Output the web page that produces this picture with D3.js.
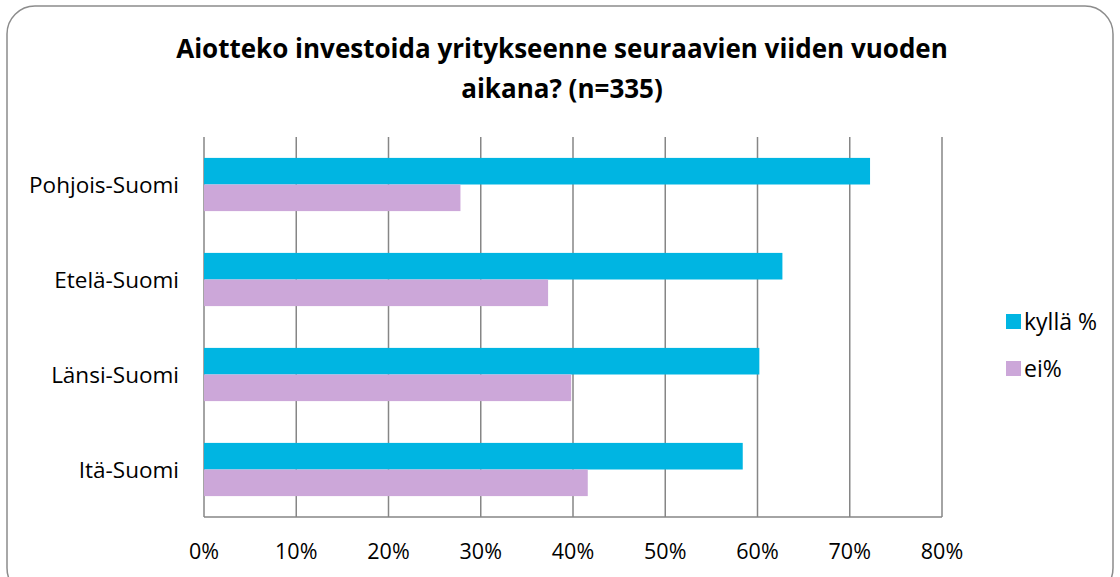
<!DOCTYPE html>
<html>
<head>
<meta charset="utf-8">
<script src="https://cdn.jsdelivr.net/npm/d3@7"></script>
<style>
  body { margin: 0; background: #fff; }
  text { font-family: "Open Sans", "Noto Sans", sans-serif; fill: #000; }
</style>
</head>
<body>
<div id="chart"></div>
<script>
var width = 1120,
    height = 577;

var regions = ['Pohjois-Suomi', 'Etelä-Suomi', 'Länsi-Suomi', 'Itä-Suomi'];
var seriesNames = ['kyllä %', 'ei%'];
var kylla = [72.2, 62.7, 60.2, 58.4];
var ei = [27.8, 37.3, 39.8, 41.6];
var ticks = [0, 10, 20, 30, 40, 50, 60, 70, 80];
var colors = ['#00b5e2', '#cca7d9'];

var svg = d3.select('#chart').append('svg')
    .attr('width', width)
    .attr('height', height);

// outer frame
svg.append('rect')
    .attr('x', 7).attr('y', 6)
    .attr('width', 1106).attr('height', 590)
    .attr('rx', 28).attr('ry', 28)
    .attr('fill', '#fff')
    .attr('stroke', '#8c8c8c')
    .attr('stroke-width', 1.5);

// title
var title = svg.append('text')
    .attr('text-anchor', 'middle')
    .attr('font-size', '26px')
    .attr('font-weight', 'bold');
title.append('tspan').attr('x', 562).attr('y', 58).text('Aiotteko investoida yritykseenne seuraavien viiden vuoden');
title.append('tspan').attr('x', 562).attr('y', 98).text('aikana? (n=335)');

var x = d3.scaleLinear()
    .domain([0, 80])
    .range([204, 942]);

var y = d3.scaleBand()
    .domain(regions)
    .range([137, 517])
    .paddingInner(0.44)
    .paddingOuter(0.22);

var sub = d3.scaleBand()
    .domain(seriesNames)
    .range([0, y.bandwidth()]);

// gridlines
svg.append('g')
    .selectAll('line')
    .data(ticks)
    .enter().append('line')
    .attr('x1', function(d) { return x(d); })
    .attr('x2', function(d) { return x(d); })
    .attr('y1', 137)
    .attr('y2', 517)
    .attr('stroke', '#868686')
    .attr('stroke-width', 1.5);

var rows = regions.map(function(r, i) { return { region: r, values: [kylla[i], ei[i]] }; });

var groups = svg.selectAll('.row')
    .data(rows)
    .enter().append('g')
    .attr('class', 'row')
    .attr('transform', function(d) { return 'translate(0,' + y(d.region) + ')'; });

groups.selectAll('rect')
    .data(function(d) { return d.values.map(function(v, j) { return { name: seriesNames[j], v: v, j: j }; }); })
    .enter().append('rect')
    .attr('x', x(0))
    .attr('y', function(d) { return sub(d.name); })
    .attr('width', function(d) { return x(d.v) - x(0); })
    .attr('height', sub.bandwidth())
    .attr('fill', function(d) { return colors[d.j]; });

// axis line
svg.append('line')
    .attr('x1', x(0)).attr('x2', x(80))
    .attr('y1', 517).attr('y2', 517)
    .attr('stroke', '#868686')
    .attr('stroke-width', 1.5);

// x tick labels
svg.append('g')
    .selectAll('text')
    .data(ticks)
    .enter().append('text')
    .attr('x', function(d) { return x(d); })
    .attr('y', 559)
    .attr('text-anchor', 'middle')
    .attr('font-size', '21.5px')
    .text(function(d) { return d + '%'; });

// category labels
svg.append('g')
    .selectAll('text')
    .data(regions)
    .enter().append('text')
    .attr('x', 179)
    .attr('y', function(d) { return y(d) + y.bandwidth() / 2 + 8; })
    .attr('text-anchor', 'end')
    .attr('font-size', '22.5px')
    .text(function(d) { return d; });

// legend
var legend = svg.selectAll('.legend')
    .data(seriesNames)
    .enter().append('g')
    .attr('class', 'legend')
    .attr('transform', function(d, i) { return 'translate(1006,' + (314 + i * 47) + ')'; });

legend.append('rect')
    .attr('width', 15).attr('height', 15)
    .attr('fill', function(d, i) { return colors[i]; });

legend.append('text')
    .attr('x', 18)
    .attr('y', 16)
    .attr('font-size', '23px')
    .text(function(d) { return d; });
</script>
</body>
</html>
